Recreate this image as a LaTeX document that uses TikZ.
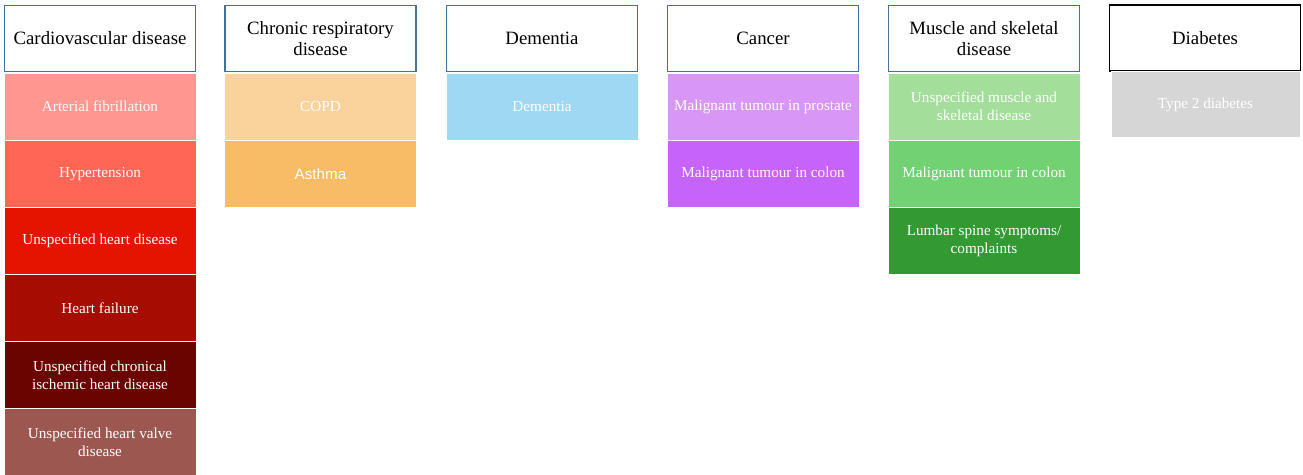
\documentclass[tikz,border=0pt]{standalone}
\usepackage{fontspec}
\setmainfont{Liberation Serif}
\newfontfamily\asthmafont{Liberation Sans}

\definecolor{hdrline}{HTML}{41719C}
\definecolor{cvdA}{HTML}{FF968F}
\definecolor{cvdB}{HTML}{FF6655}
\definecolor{cvdC}{HTML}{E41400}
\definecolor{cvdD}{HTML}{A70C00}
\definecolor{cvdE}{HTML}{6A0400}
\definecolor{cvdF}{HTML}{9C5750}
\definecolor{crdA}{HTML}{F9D29C}
\definecolor{crdB}{HTML}{F7BC65}
\definecolor{demA}{HTML}{9FD8F2}
\definecolor{canA}{HTML}{D896F7}
\definecolor{canB}{HTML}{C664F9}
\definecolor{mskA}{HTML}{A3DE9A}
\definecolor{mskB}{HTML}{71D173}
\definecolor{mskC}{HTML}{339933}
\definecolor{diaA}{HTML}{D6D6D6}

\begin{document}
\begin{tikzpicture}[x=1pt,y=-1pt]
\tikzstyle{every node}+=[inner sep=0pt]
\tikzset{
  header/.style={draw=hdrline, line width=1.5pt, fill=white, minimum width=191pt, minimum height=66pt, align=center, font=\fontsize{18.8}{21.5}\selectfont},
  item/.style={draw=white, line width=0.8pt, fill=#1, minimum width=192pt, minimum height=67pt, align=center, text=white, font=\fontsize{15.2}{18}\selectfont}
}
\useasboundingbox (0,0) rectangle (1303,474);
% headers
\node [header] (cvd) at (100,38.5) {Cardiovascular disease};
\node [header] (crd) at (320.5,38.5) {Chronic respiratory\\disease};
\node [header] (dem) at (542,38.5) {Dementia};
\node [header] (can) at (763,38.5) {Cancer};
\node [header] (msk) at (984,38.5) {Muscle and skeletal\\disease};
\node [header, draw=black] (dia) at (1205,38) {Diabetes};
% cardiovascular disease
\node [item=cvdA] (cvd1) at (100,106.5) {Arterial fibrillation};
\node [item=cvdB] (cvd2) at (100,174) {Hypertension};
\node [item=cvdC] (cvd3) at (100,241) {Unspecified heart disease};
\node [item=cvdD] (cvd4) at (100,308) {Heart failure};
\node [item=cvdE] (cvd5) at (100,375) {Unspecified chronical\\ischemic heart disease};
\node [item=cvdF] (cvd6) at (100,442) {Unspecified heart valve\\disease};
% chronic respiratory disease
\node [item=crdA] (crd1) at (320.5,106.5) {COPD};
\node [item=crdB] (crd2) at (320.5,174) {\asthmafont Asthma};
% dementia
\node [item=demA] (dem1) at (542,106.5) {Dementia};
% cancer
\node [item=canA] (can1) at (763,106.5) {Malignant tumour in prostate};
\node [item=canB] (can2) at (763,174) {Malignant tumour in colon};
% muscle and skeletal disease
\node [item=mskA] (msk1) at (984,106.5) {Unspecified muscle and\\skeletal disease};
\node [item=mskB] (msk2) at (984,174) {Malignant tumour in colon};
\node [item=mskC] (msk3) at (984,241) {Lumbar spine symptoms/\\complaints};
% diabetes
\node [item=diaA, minimum width=189pt, minimum height=66pt] (dia1) at (1205.5,104.5) {Type 2 diabetes};
\end{tikzpicture}
\end{document}
